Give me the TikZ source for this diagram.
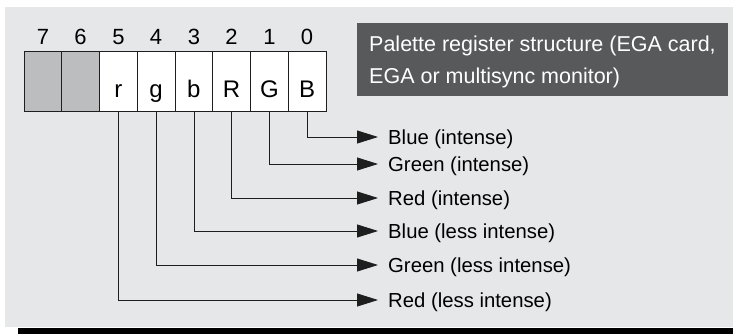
\documentclass[tikz,border=0pt]{standalone}
\usepackage{fontspec}
\setmainfont{Liberation Sans}
\usetikzlibrary{arrows.meta}
\definecolor{panel}{HTML}{E6E7E8}
\definecolor{unused}{HTML}{BCBDBF}
\definecolor{capbox}{HTML}{58595B}
\definecolor{wire}{HTML}{1E1E1E}
\begin{document}
\begin{tikzpicture}[
		x=1pt, y=-1pt,
		cell/.style={draw=wire, line width=0.9pt, minimum width=37.75pt, minimum height=60pt,
		inner sep=0pt, fill=white},
		ucell/.style={cell, fill=unused},
		bitno/.style={font=\fontsize{22}{24}\selectfont, inner sep=0pt, anchor=base},
		bitch/.style={font=\fontsize{24}{26}\selectfont, inner sep=0pt, anchor=base},
		lbl/.style={font=\fontsize{20.3}{22}\selectfont, inner sep=0pt, anchor=base west},
		conn/.style={draw=wire, line width=0.8pt, -{Triangle[length=21pt, width=13pt]}},
		titlebox/.style={fill=capbox, anchor=north west, inner sep=0pt,
		minimum width=371pt, minimum height=73pt},
		titletext/.style={text=white, inner sep=0pt, anchor=base west,
		font=\fontsize{21.5}{32}\selectfont}
	]
		\useasboundingbox (0,0) rectangle (733,334);

		% Hintergrund
		\fill[panel] (5,7) rectangle (733,327);
		\fill[black] (18,328) rectangle (733,334);

		% Registerzellen
		\def\ycell{81}
		\foreach \b/\x in {7/42.9, 6/80.6} {
			\node[ucell] (c\b) at (\x,\ycell) {};
			\node[bitno] (n\b) at (\x,45) {\b};
		}
		\foreach \b/\x/\ch in {5/118.4/r, 4/156.1/g, 3/193.9/b, 2/231.6/R, 1/269.4/G, 0/307.1/B} {
			\node[cell] (c\b) at (\x,\ycell) {};
			\node[bitno] (n\b) at (\x,45) {\b};
			\node[bitch] (l\b) at ([yshift=-16.5pt]c\b.center) {\ch};
		}

		% Titel
		\node[titlebox] (title) at (357,23) {};
		\node[titletext] (title1) at (369,52) {Palette register structure (EGA card,};
		\node[titletext] (title2) at (369,84) {EGA or multisync monitor)};

		% Pfeilspitzen
		\coordinate (t0) at (378,137);
		\coordinate (t1) at (378,164);
		\coordinate (t2) at (378,198);
		\coordinate (t3) at (378,231);
		\coordinate (t4) at (378,265);
		\coordinate (t5) at (378,300);

		% Bedeutung der Bits
		\node[lbl] (d0) at ([xshift=10pt, yshift=-7pt]t0) {Blue (intense)};
		\node[lbl] (d1) at ([xshift=10pt, yshift=-7pt]t1) {Green (intense)};
		\node[lbl] (d2) at ([xshift=10pt, yshift=-7pt]t2) {Red (intense)};
		\node[lbl] (d3) at ([xshift=10pt, yshift=-7pt]t3) {Blue (less intense)};
		\node[lbl] (d4) at ([xshift=10pt, yshift=-7pt]t4) {Green (less intense)};
		\node[lbl] (d5) at ([xshift=10pt, yshift=-7pt]t5) {Red (less intense)};

		% Verbindungen
		\foreach \b in {0,...,5} \draw[conn] (c\b.south) |- (t\b);
	\end{tikzpicture}
\end{document}
